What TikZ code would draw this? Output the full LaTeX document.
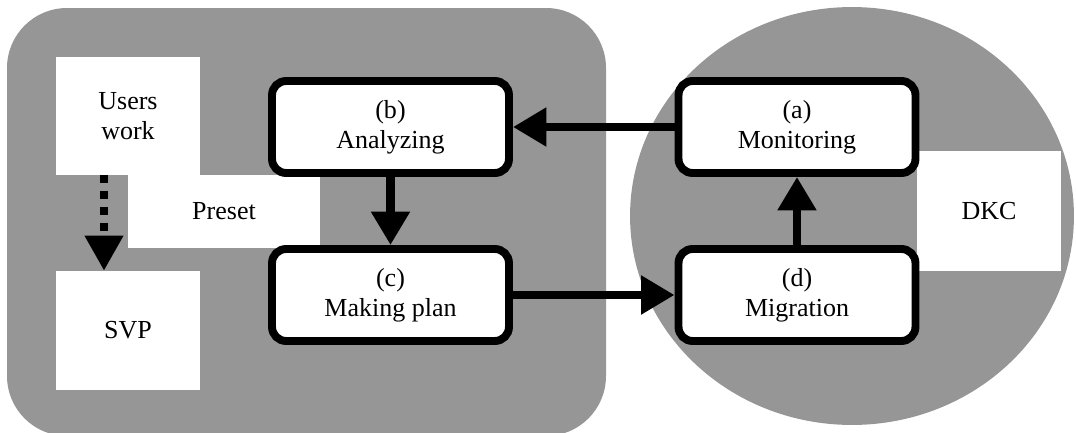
\documentclass[tikz,border=0pt]{standalone}
\usepackage{fontspec}
\setmainfont{Liberation Serif}
\newfontfamily\timesfont{Liberation Serif}
\usetikzlibrary{arrows.meta}
\definecolor{bggray}{RGB}{150,150,150}
\begin{document}
\begin{tikzpicture}[x=0.02cm,y=-0.02cm,
  font=\timesfont\fontsize{14.8}{17}\selectfont,
  proc/.style={draw,line width=4.5pt,rounded corners=8pt,fill=white,align=center,
    minimum width=4.74cm,minimum height=1.84cm,inner sep=0pt},
  wbox/.style={fill=white,align=center,inner sep=0pt},
  flow/.style={line width=5pt,-{Triangle[length=19pt,width=21pt]}},
  dotflow/.style={line width=4.5pt,dash pattern=on 4.5pt off 4.5pt,
    -{Triangle[length=20pt,width=21pt]}}]
  \useasboundingbox (0,0) rectangle (1076,433);
  % 背景の領域
  \fill[bggray,rounded corners=1.2cm] (7,8) rectangle (606,436);
  \fill[bggray] (852,216) ellipse [x radius=4.44cm,y radius=4.18cm];
  % 白い領域
  \node[wbox,minimum width=2.88cm,minimum height=2.36cm] (users) at (128,116) {Users\\work};
  \node[wbox,minimum width=3.84cm,minimum height=1.46cm] (preset) at (224,211.5) {Preset};
  \node[wbox,minimum width=2.88cm,minimum height=2.38cm] (svp) at (128,330.5) {SVP};
  \node[wbox,minimum width=2.88cm,minimum height=2.4cm] (dkc) at (989,211) {DKC};
  % 処理の箱
  \node[proc] (mon) at (797,127) {(a)\\Monitoring};
  \node[proc] (ana) at (390.5,127) {(b)\\Analyzing};
  \node[proc] (plan) at (390.5,295) {(c)\\Making plan};
  \node[proc] (mig) at (797,295) {(d)\\Migration};
  % 矢印
  \draw[flow] (mon) -- (ana);
  \draw[flow] (ana) -- (plan);
  \draw[flow] (plan) -- (mig);
  \draw[flow] (mig) -- (mon);
  \coordinate (dotx) at (104,0);
  \draw[dotflow] (users.south -| dotx) -- (svp.north -| dotx);
\end{tikzpicture}
\end{document}
